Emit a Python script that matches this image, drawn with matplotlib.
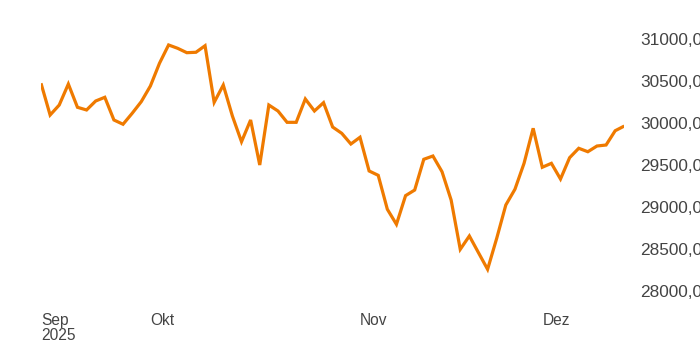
import matplotlib
matplotlib.use("Agg")
import matplotlib.pyplot as plt
from matplotlib.ticker import FuncFormatter
import pandas as pd

# Daily closing values, trading days 15 Sep 2025 .. 12 Dec 2025
dates = pd.bdate_range("2025-09-15", "2025-12-12")
values = [
    30473, 30095, 30214, 30464, 30187, 30155, 30262, 30306, 30036, 29985,
    30115, 30254, 30440, 30711, 30929, 30889, 30837, 30842, 30920, 30246,
    30452, 30083, 29777, 30036, 29500, 30214, 30143, 30008, 30008, 30286,
    30143, 30242, 29952, 29877, 29750, 29830, 29429, 29377, 28973, 28794,
    29135, 29202, 29568, 29607, 29420, 29083, 28496, 28655, 28456, 28258,
    28627, 29024, 29211, 29520, 29937, 29473, 29520, 29333, 29587, 29699,
    29658, 29726, 29738, 29908, 29964,
]
month_names = {9: "Sep", 10: "Okt", 11: "Nov", 12: "Dez"}
y_ticks = [28000, 28500, 29000, 29500, 30000, 30500, 31000]

W, H = 700, 350
fig = plt.figure(figsize=(W / 100, H / 100), dpi=100)
left_px, right_px, top_px, bottom_px = 41, 624.3, 25, 305
ax = fig.add_axes([left_px / W, 1 - bottom_px / H,
                   (right_px - left_px) / W, (bottom_px - top_px) / H])

x = list(range(len(values)))
ax.plot(x, values, color="#ef7a00", lw=2.3, solid_joinstyle="miter",
        solid_capstyle="butt")

ax.set_xlim(0, len(values) - 1)
ax.set_ylim(27833.3, 31166.7)

for s in ax.spines.values():
    s.set_visible(False)

# month ticks
tick_pos, tick_lab = [], []
prev = None
for i, d in enumerate(dates):
    if d.month != prev:
        lab = month_names[d.month]
        if i == 0:
            lab = lab + "\n" + str(d.year)
        tick_pos.append(i)
        tick_lab.append(lab)
        prev = d.month
ax.set_xticks(tick_pos)
ax.set_xticklabels(tick_lab, ha="left", family="Liberation Sans",
                   fontsize=11.2, color="#444444", linespacing=1.0)
ax.tick_params(axis="x", length=0, pad=6)

ax.yaxis.tick_right()
ax.set_yticks(y_ticks)
ax.yaxis.set_major_formatter(FuncFormatter(lambda v, p: f"{v:.2f}".replace(".", ",")))
for t in ax.get_yticklabels():
    t.set_family("Liberation Sans")
    t.set_fontsize(12.4)
    t.set_color("#444444")
    t.set_ha("left")
ax.tick_params(axis="y", length=0, pad=11.5)

fig.savefig("out.png", dpi=100)
